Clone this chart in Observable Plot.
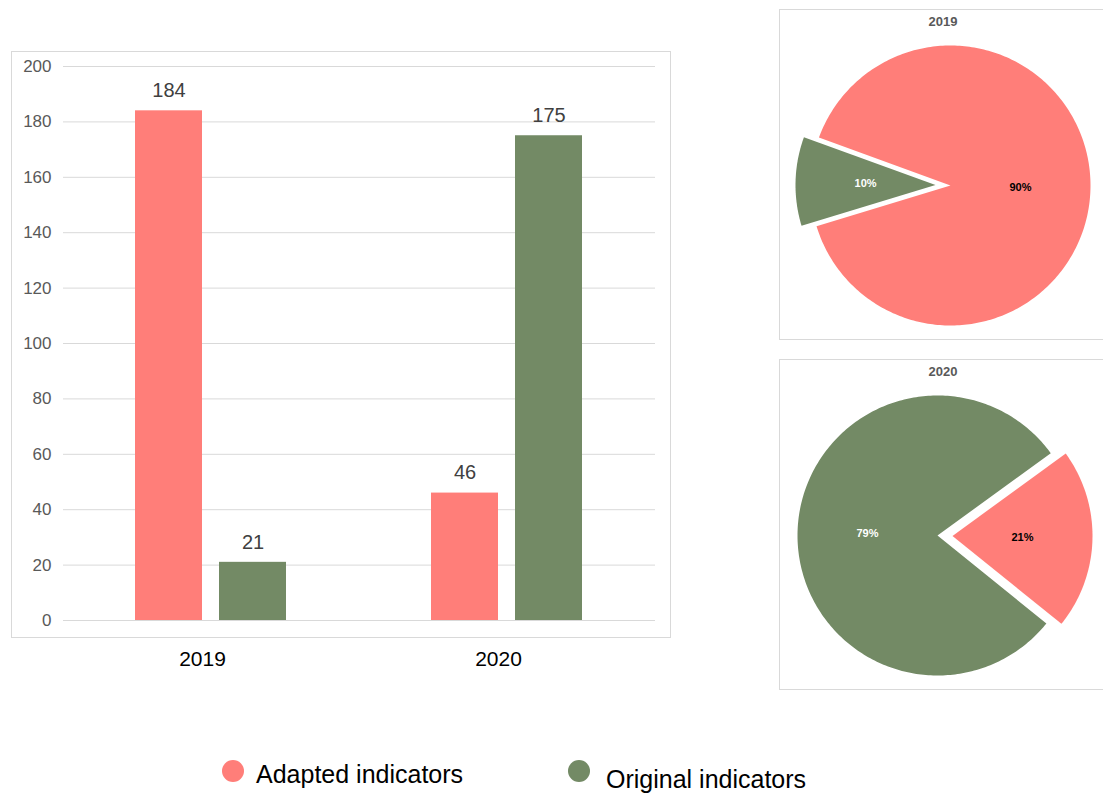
<!DOCTYPE html>
<html><head><meta charset="utf-8">
<script src="https://cdn.jsdelivr.net/npm/d3@7"></script>
<script src="https://cdn.jsdelivr.net/npm/@observablehq/plot@0.6"></script>
<style>
body{margin:0;background:#fff;font-family:"Liberation Sans",Arial,sans-serif;}
#root{position:relative;width:1103px;height:794px;overflow:hidden;}
.abs{position:absolute;}
.box{position:absolute;border:1px solid #d9d9d9;box-sizing:border-box;}
.ptitle{position:absolute;text-align:center;font:bold 13px "Liberation Sans",Arial,sans-serif;color:#595959;}
.leg{position:absolute;font:25px/25px "Liberation Sans",Arial,sans-serif;color:#000;white-space:nowrap;}
.dot{position:absolute;width:22px;height:22px;border-radius:50%;}
</style></head><body><div id="root"></div>
<script>
// ---- data ----
const years = ["2019", "2020"];
const seriesNames = ["Adapted indicators", "Original indicators"];
const adapted = [184, 46];
const original = [21, 175];
const yTicks = [0, 20, 40, 60, 80, 100, 120, 140, 160, 180, 200];
const colors = ["#FF7E79", "#738A65"];
// pie layout: start angle (deg, clockwise from 12 o'clock) and which slice is pulled out
const pieStart = [290, 54];
const pieExplode = [1, 0];

const root = document.getElementById("root");
function el(tag, cls, css, html) {
  const e = document.createElement(tag);
  if (cls) e.className = cls;
  Object.assign(e.style, css || {});
  if (html != null) e.textContent = html;
  root.appendChild(e);
  return e;
}

// ---- bar chart ----
const rows = years.flatMap((yr, i) => [
  {year: yr, series: seriesNames[0], value: adapted[i]},
  {year: yr, series: seriesNames[1], value: original[i]}
]);

el("div", "box", {left: "11px", top: "51px", width: "660px", height: "587px"});

const bar = Plot.plot({
  width: 680, height: 690,
  marginLeft: 63, marginRight: 25, marginTop: 66, marginBottom: 70,
  style: {background: "transparent", fontFamily: "'Liberation Sans', Arial, sans-serif"},
  fx: {domain: years, padding: 0, label: null},
  x: {domain: seriesNames, paddingInner: 0.2, paddingOuter: 0.86, axis: null},
  y: {domain: [0, 200], label: null},
  color: {domain: seriesNames, range: colors},
  marks: [
    Plot.gridY({ticks: yTicks, stroke: "#d9d9d9", strokeOpacity: 1, strokeWidth: 1}),
    Plot.axisY({ticks: yTicks, tickSize: 0, tickPadding: 12, label: null, fontSize: 17, color: "#595959"}),
    Plot.axisFx({anchor: "bottom", tickSize: 0, tickPadding: 31, label: null, fontSize: 21, color: "#000", dx: -9}),
    Plot.barY(rows, {fx: "year", x: "series", y: "value", fill: "series"}),
    Plot.text(rows, {fx: "year", x: "series", y: "value", text: d => String(d.value), dy: -20, fontSize: 20, fill: "#404040"})
  ]
});
bar.style.position = "absolute"; bar.style.left = "0px"; bar.style.top = "0px";
root.appendChild(bar);

// ---- pies ----
const R = 140, EXP = 15 / 140;
const pct = d3.format(".0%");
function makePie(i, box, center) {
  const vals = [adapted[i], original[i]];
  const total = d3.sum(vals);
  const arcs = d3.pie().sort(null)
    .startAngle(pieStart[i] * Math.PI / 180)
    .endAngle(pieStart[i] * Math.PI / 180 + 2 * Math.PI)(vals);
  const pts = [], labels = [];
  arcs.forEach((a, k) => {
    const mid = (a.startAngle + a.endAngle) / 2;
    const off = k === pieExplode[i] ? EXP : 0;
    const ox = off * Math.sin(mid), oy = off * Math.cos(mid);
    const n = Math.max(4, Math.ceil((a.endAngle - a.startAngle) / (Math.PI / 180)));
    pts.push({series: seriesNames[k], x: ox, y: oy});
    for (let j = 0; j <= n; j++) {
      const t = a.startAngle + (a.endAngle - a.startAngle) * j / n;
      pts.push({series: seriesNames[k], x: ox + Math.sin(t), y: oy + Math.cos(t)});
    }
    pts.push({series: seriesNames[k], x: ox, y: oy});
    labels.push({series: seriesNames[k], x: ox + 0.5 * Math.sin(mid), y: oy + 0.5 * Math.cos(mid),
                 text: pct(vals[k] / total), fill: k === 0 ? "#000" : "#fff"});
  });
  const w = box.w, h = box.h, cx = center[0] - box.left, cy = center[1] - box.top;
  el("div", "box", {left: box.left + "px", top: box.top + "px", width: "335px", height: h + "px"});
  el("div", "ptitle", {left: box.left + "px", top: (box.top + 5) + "px", width: "328px"}, years[i]);
  const p = Plot.plot({
    width: w, height: h, margin: 0,
    style: {background: "transparent", fontFamily: "'Liberation Sans', Arial, sans-serif"},
    x: {domain: [-cx / R, (w - cx) / R], range: [0, w], axis: null},
    y: {domain: [-(h - cy) / R, cy / R], range: [h, 0], axis: null},
    color: {domain: seriesNames, range: colors},
    marks: [
      Plot.line(pts, {x: "x", y: "y", z: "series", fill: "series", stroke: "none", curve: "linear"}),
      Plot.text(labels, {x: "x", y: "y", text: "text", fill: d => d.fill, fontSize: 11, fontWeight: "bold"})
    ]
  });
  p.style.position = "absolute"; p.style.left = box.left + "px"; p.style.top = box.top + "px";
  root.appendChild(p);
}
makePie(0, {left: 779, top: 9, w: 324, h: 331}, [950, 185]);
makePie(1, {left: 779, top: 359, w: 324, h: 331}, [937, 535]);

// ---- legend ----
el("div", "dot", {left: "222px", top: "760px", background: colors[0]});
el("div", "leg", {left: "256px", top: "762px"}, seriesNames[0]);
el("div", "dot", {left: "568px", top: "760px", background: colors[1]});
el("div", "leg", {left: "606px", top: "767px"}, seriesNames[1]);
</script>
</body></html>
